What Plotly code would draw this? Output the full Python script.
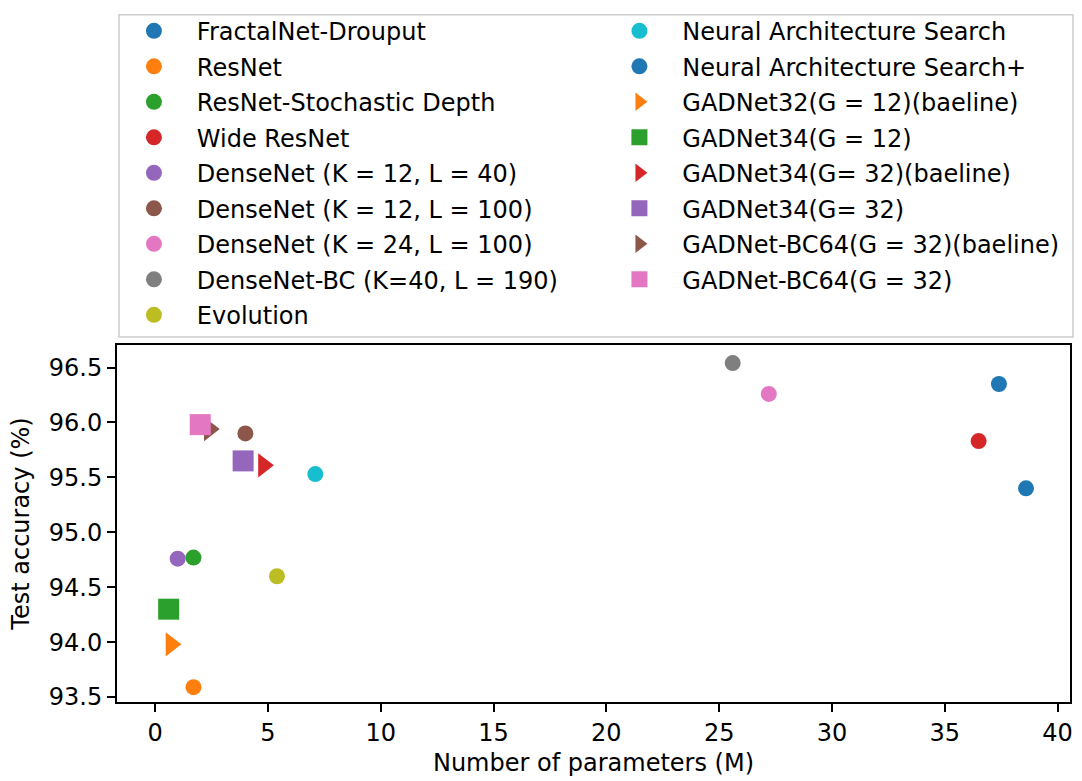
import plotly.graph_objects as go

# ---- data ----
names = [
    "FractalNet-Drouput",
    "ResNet",
    "ResNet-Stochastic Depth",
    "Wide ResNet",
    "DenseNet (K = 12, L = 40)",
    "DenseNet (K = 12, L = 100)",
    "DenseNet (K = 24, L = 100)",
    "DenseNet-BC (K=40, L = 190)",
    "Evolution",
    "Neural Architecture Search",
    "Neural Architecture Search+",
    "GADNet32(G = 12)(baeline)",
    "GADNet34(G = 12)",
    "GADNet34(G= 32)(baeline)",
    "GADNet34(G= 32)",
    "GADNet-BC64(G = 32)(baeline)",
    "GADNet-BC64(G = 32)",
]
params = [38.6, 1.7, 1.7, 36.5, 1.0, 4.0, 27.2, 25.6, 5.4, 7.1, 37.4,
          0.7, 0.6, 4.8, 3.9, 2.4, 2.0]
accuracy = [95.40, 93.59, 94.77, 95.83, 94.76, 95.90, 96.26, 96.54, 94.60, 95.53, 96.35,
            93.98, 94.30, 95.61, 95.65, 95.94, 95.98]
colors = ["#1f77b4", "#ff7f0e", "#2ca02c", "#d62728", "#9467bd", "#8c564b",
          "#e377c2", "#7f7f7f", "#bcbd22", "#17becf", "#1f77b4",
          "#ff7f0e", "#2ca02c", "#d62728", "#9467bd", "#8c564b", "#e377c2"]
symbols = ["circle"] * 11 + ["triangle-right", "square", "triangle-right", "square",
                             "triangle-right", "square"]
x_ticks = [0, 5, 10, 15, 20, 25, 30, 35, 40]
y_ticks = [93.5, 94.0, 94.5, 95.0, 95.5, 96.0, 96.5]

FONT = "DejaVu Sans"
sizes = {"circle": 16, "square": 21, "triangle-right": 21}

fig = go.Figure()
n_col1 = 9
for i, name in enumerate(names):
    fig.add_trace(go.Scatter(
        x=[params[i]], y=[accuracy[i]], mode="markers",
        name="\u00a0\u00a0\u00a0" + name,
        legend="legend" if i < n_col1 else "legend2",
        legendgroup=name,
        marker=dict(color=colors[i], symbol=symbols[i], size=sizes[symbols[i]],
                    line=dict(width=0)),
        showlegend=True,
    ))

axis_common = dict(
    showline=True, linecolor="black", linewidth=2, mirror=True,
    ticks="outside", ticklen=8, tickwidth=2, tickcolor="black",
    showgrid=False, zeroline=False,
    tickfont=dict(family=FONT, size=24, color="black"),
)

legend_common = dict(
    orientation="v", xref="paper", yref="paper",
    xanchor="left", y=1.942, yanchor="top",
    traceorder="grouped", itemsizing="trace", tracegroupgap=1.3,
    borderwidth=0, bgcolor="rgba(0,0,0,0)",
    font=dict(family=FONT, size=24, color="black"),
)

fig.update_layout(
    width=1082, height=781,
    margin=dict(l=117, r=9, t=343, b=77),
    paper_bgcolor="white", plot_bgcolor="white",
    font=dict(family=FONT, size=24, color="black"),
    xaxis=dict(range=[-1.69, 40.55], tickvals=x_ticks,
               title=dict(text="Number of parameters (M)",
                          font=dict(family=FONT, size=24, color="black"), standoff=8),
               **axis_common),
    yaxis=dict(range=[93.455, 96.705], tickvals=y_ticks, tickformat=".1f",
               title=dict(text="Test accuracy (%)",
                          font=dict(family=FONT, size=24, color="black"), standoff=12),
               **axis_common),
    legend=dict(x=(134 - 117) / 956, **legend_common),
    legend2=dict(x=(621 - 117) / 956, **legend_common),
    shapes=[dict(type="rect", xref="paper", yref="paper",
                 x0=0.0021, x1=1.0031, y0=1.0222, y1=1.9252,
                 line=dict(color="#cccccc", width=1.5), fillcolor="rgba(0,0,0,0)",
                 layer="below")],
    showlegend=True,
)

fig.write_html("out.html")
